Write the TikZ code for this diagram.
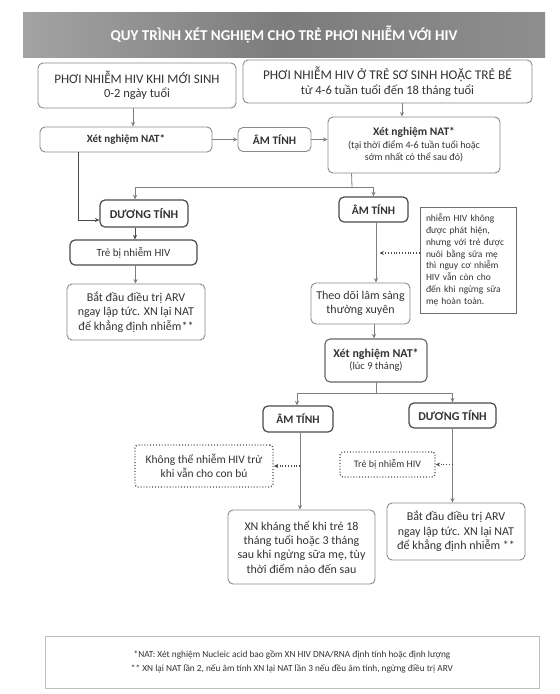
\documentclass[tikz,border=0pt]{standalone}
\usepackage{fontspec}
\setmainfont{Carlito}
\usetikzlibrary{arrows.meta}
\definecolor{txt}{HTML}{333333}
\definecolor{lbord}{HTML}{8A8A8A}
\definecolor{dbord}{HTML}{4A4A4A}
\definecolor{arr}{HTML}{7E7E7E}
\definecolor{hdrL}{HTML}{A3A3A3}
\definecolor{hdrM}{HTML}{7C7C7C}
\definecolor{hdrR}{HTML}{8E8E8E}
\newcommand\setfs[2]{\fontsize{#1}{#2}\selectfont}
\tikzset{
  box/.style={draw=lbord, line width=0.9pt, rounded corners=5pt, inner sep=0pt, align=center, text=txt},
  dbox/.style={box, draw=dbord, line width=1.2pt},
  dotbox/.style={box, draw=dbord, dotted, line width=1.4pt, rounded corners=3pt},
  conn/.style={draw=arr, line width=0.8pt, -{Stealth[length=4.5pt,width=4pt]}},
  dconn/.style={conn, draw=dbord},
  dotconn/.style={conn, draw=dbord, dotted, line width=1.1pt},
  seg/.style={draw=arr, line width=0.8pt},
}
\begin{document}
\begin{tikzpicture}[x=1pt,y=-1pt]
\useasboundingbox (0,0) rectangle (560,694);
\fill[white] (0,0) rectangle (560,694);
% header
\shade[left color=hdrL, right color=hdrR, middle color=hdrM] (23,12) rectangle (545,57);
\node[text=white, font=\setfs{15}{18}\bfseries, inner sep=0pt] (hdr) at (284,34.5) {QUY TRÌNH XÉT NGHIỆM CHO TRẺ PHƠI NHIỄM VỚI HIV};
% top boxes
\node[box, minimum width=198, minimum height=45] (b1) at (137,85.5)
  {\setfs{13}{16}PHƠI NHIỄM HIV KHI MỚI SINH\\[2.5pt]\setfs{12.5}{15}0-2 ngày tuổi};
\node[box, minimum width=289, minimum height=43] (b2) at (387.5,81.5)
  {\setfs{13.3}{16}PHƠI NHIỄM HIV Ở TRẺ SƠ SINH HOẶC TRẺ BÉ\\[2.5pt]\setfs{12.5}{15}từ 4-6 tuần tuổi đến 18 tháng tuổi};
% second row
\node[box, minimum width=172, minimum height=25, font=\setfs{11}{13}\bfseries] (natL) at (126,139.5) {Xét nghiệm NAT*};
\node[box, minimum width=73, minimum height=24, font=\setfs{11.5}{13}\bfseries] (amL) at (274.5,139.5) {ÂM TÍNH};
\node[box, minimum width=172, minimum height=56] (natR) at (414,145)
  {\setfs{11.5}{14}\bfseries Xét nghiệm NAT*\\[1pt]\setfs{10}{12.5}(tại thời điểm 4-6 tuần tuổi hoặc\\\setfs{10}{12.5}sớm nhất có thể sau đó)};
% left column
\node[dbox, minimum width=88, minimum height=27, font=\setfs{12}{14}\bfseries] (dtL) at (144,213.5) {DƯƠNG TÍNH};
\node[dbox, minimum width=127, minimum height=25, font=\setfs{11}{13}] (treL) at (133.5,252.5) {Trẻ bị nhiễm HIV};
\node[box, minimum width=138, minimum height=56, font=\setfs{12}{14.3}] (batL) at (136,312)
  {Bắt đầu điều trị ARV\\ngay lập tức. XN lại NAT\\để khẳng định nhiễm**};
% middle column
\node[dbox, minimum width=69, minimum height=25, font=\setfs{11.5}{13}\bfseries] (amM) at (373.5,209.5) {ÂM TÍNH};
\node[draw=dbord!80, line width=1pt, inner sep=0pt, minimum width=96, minimum height=106,
      text width=84, align=left, text=txt, font=\setfs{9.5}{11.8}] (note) at (468,260)
  {nhiễm HIV không\\được phát hiện,\\nhưng với trẻ được\\nuôi bằng sữa mẹ\\thì nguy cơ nhiễm\\HIV vẫn còn cho\\đến khi ngừng sữa\\mẹ hoàn toàn.};
\node[box, minimum width=99, minimum height=41, font=\setfs{12}{14.3}] (theo) at (360.5,303.5)
  {Theo dõi lâm sàng\\thường xuyên};
\node[dbox, draw=dbord!85, line width=1.1pt, minimum width=102, minimum height=43] (nat9) at (376,360.5)
  {\setfs{12}{14}\bfseries Xét nghiệm NAT*\\\setfs{10.5}{13}(lúc 9 tháng)};
% bottom rows
\node[dbox, minimum width=70, minimum height=26, font=\setfs{11.5}{13}\bfseries] (am9) at (298,419) {ÂM TÍNH};
\node[dbox, minimum width=87, minimum height=25, font=\setfs{12}{14}\bfseries] (dt9) at (452.5,415.5) {DƯƠNG TÍNH};
\node[dotbox, minimum width=138, minimum height=42, font=\setfs{11.5}{14}] (khong) at (204,466)
  {Không thể nhiễm HIV trừ\\khi vẫn cho con bú};
\node[dotbox, minimum width=95, minimum height=25, font=\setfs{10}{12}] (treR) at (387.5,464.5) {Trẻ bị nhiễm HIV};
\node[box, minimum width=147, minimum height=74, font=\setfs{12}{14.3}] (xnk) at (301.5,547)
  {XN kháng thể khi trẻ 18\\tháng tuổi hoặc 3 tháng\\sau khi ngừng sữa mẹ, tùy\\thời điểm nào đến sau};
\node[box, minimum width=138, minimum height=57, font=\setfs{12}{14.3}] (batR) at (456,531.5)
  {Bắt đầu điều trị ARV\\ngay lập tức. XN lại NAT\\để khẳng định nhiễm **};
% footnote
\node[draw=black!25, line width=0.6pt, inner sep=0pt, minimum width=494, minimum height=52,
      align=center, text=txt, font=\setfs{9.3}{14.5}] (foot) at (292,662)
  {*NAT: Xét nghiệm Nucleic acid bao gồm XN HIV DNA/RNA định tính hoặc định lượng\\** XN lại NAT lần 2, nếu âm tính XN lại NAT lần 3 nếu đều âm tính, ngừng điều trị ARV};
% junctions
\coordinate (j1) at (352,187);
\coordinate (j2) at (376,393);
% connectors
\draw[conn] ([xshift=-4pt]b1.south) -- ([xshift=-4pt]b1.south |- natL.north);
\draw[conn] (natL.east) -- (amL.west);
\draw[conn] (amL.east) -- (amL.east -| natR.west);
\draw[conn] ([xshift=-12pt]natR.north |- b2.south) -- ([xshift=-12pt]natR.north);
\draw[dconn] ([xshift=39pt]natL.south west) |- ([yshift=-6.5pt]dtL.west);
\draw[seg] ([xshift=24pt]natR.south west) -- (j1);
\draw[conn] (j1) -| ([xshift=-9pt]dtL.north);
\draw[conn] (j1) -| (amM.north);
\draw[dconn] ([xshift=-9pt]dtL.south) -- ([xshift=-9pt]dtL.south |- treL.north);
\draw[conn] ([xshift=2pt]treL.south) -- ([xshift=2pt]treL.south |- batL.north);
\draw[conn] ([xshift=2.5pt]amM.south) -- ([xshift=2.5pt]amM.south |- theo.north);
\draw[dotconn] ([yshift=7pt]note.west) -- ++(-40,0);
\draw[conn] ([xshift=13.5pt]theo.south) -- ([xshift=13.5pt]theo.south |- nat9.north);
\draw[seg] (nat9.south) -- (j2);
\draw[conn] (j2) -| ([xshift=-1pt]am9.north);
\draw[conn] (j2) -| (dt9.north);
\draw[conn] ([xshift=2pt]am9.south) -- ([xshift=2pt]am9.south |- xnk.north);
\draw[dotconn] ([xshift=2pt]am9.south |- khong.east) -- (khong.east);
\draw[conn] (dt9.south) -- (dt9.south |- batR.north);
\draw[dotconn] (dt9.south |- treR.east) -- (treR.east);
\end{tikzpicture}
\end{document}
